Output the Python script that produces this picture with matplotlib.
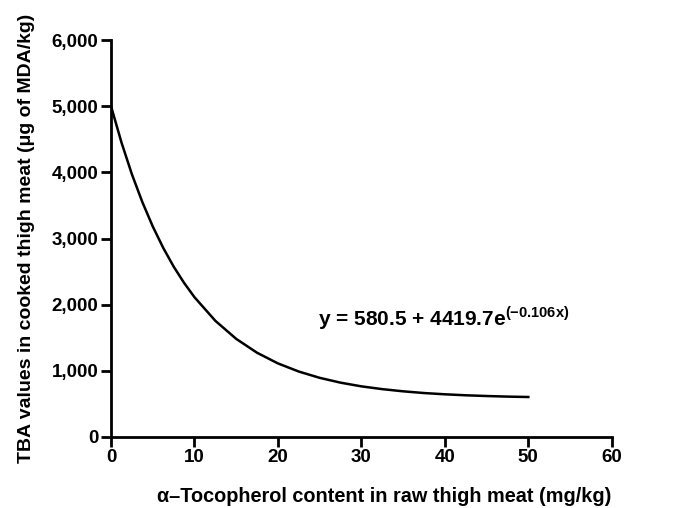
import matplotlib
matplotlib.use("Agg")
import matplotlib.pyplot as plt

plt.rcParams['font.family'] = ['Liberation Sans', 'DejaVu Sans']
plt.rcParams['mathtext.fontset'] = 'custom'
plt.rcParams['mathtext.rm'] = 'Liberation Sans'
plt.rcParams['mathtext.bf'] = 'Liberation Sans:bold'

# Curve values (fitted line)
x_vals = [0, 1.25, 2.5, 3.75, 5, 6.25, 7.5, 8.75, 10, 12.5, 15, 17.5, 20, 22.5, 25,
          27.5, 30, 32.5, 35, 37.5, 40, 42.5, 45, 47.5, 50]
y_vals = [5000, 4452, 3971, 3551, 3182, 2859, 2576, 2329, 2112, 1755, 1482, 1272, 1111,
          988, 893, 820, 764, 722, 689, 663, 644, 629, 618, 609, 603]

x_ticks = [0, 10, 20, 30, 40, 50, 60]
y_ticks = [0, 1000, 2000, 3000, 4000, 5000, 6000]
y_ticklabels = ["0", "1,000", "2,000", "3,000", "4,000", "5,000", "6,000"]

fig = plt.figure(figsize=(6.73, 5.08), dpi=100)
ax = fig.add_axes([0.165, 0.140, 0.744, 0.781])

ax.plot(x_vals, y_vals, color='black', lw=1.8)

ax.set_xlim(0, 60)
ax.set_ylim(0, 6000)
ax.set_xticks(x_ticks)
ax.set_yticks(y_ticks)
ax.set_yticklabels(y_ticklabels)
for s in ['top', 'right']:
    ax.spines[s].set_visible(False)
for s in ['left', 'bottom']:
    ax.spines[s].set_linewidth(2)
ax.tick_params(direction='out', length=7, width=2, labelsize=13.5, pad=2)
for lab in ax.get_xticklabels() + ax.get_yticklabels():
    lab.set_fontweight('bold')

ax.set_xlabel("α–Tocopherol content in raw thigh meat (mg/kg)", fontsize=14.3,
              fontweight='bold')
ax.xaxis.set_label_coords(0.546, -0.127)
ax.set_ylabel("TBA values in cooked thigh meat (μg of MDA/kg)", fontsize=14,
              fontweight='bold', labelpad=12)

ax.text(24.8, 1800, r"y = 580.5 + 4419.7e$^{\mathbf{(-0.106x)}}$",
        fontsize=15, fontweight='bold', va='center', ha='left')

fig.savefig("out.png", dpi=100)
